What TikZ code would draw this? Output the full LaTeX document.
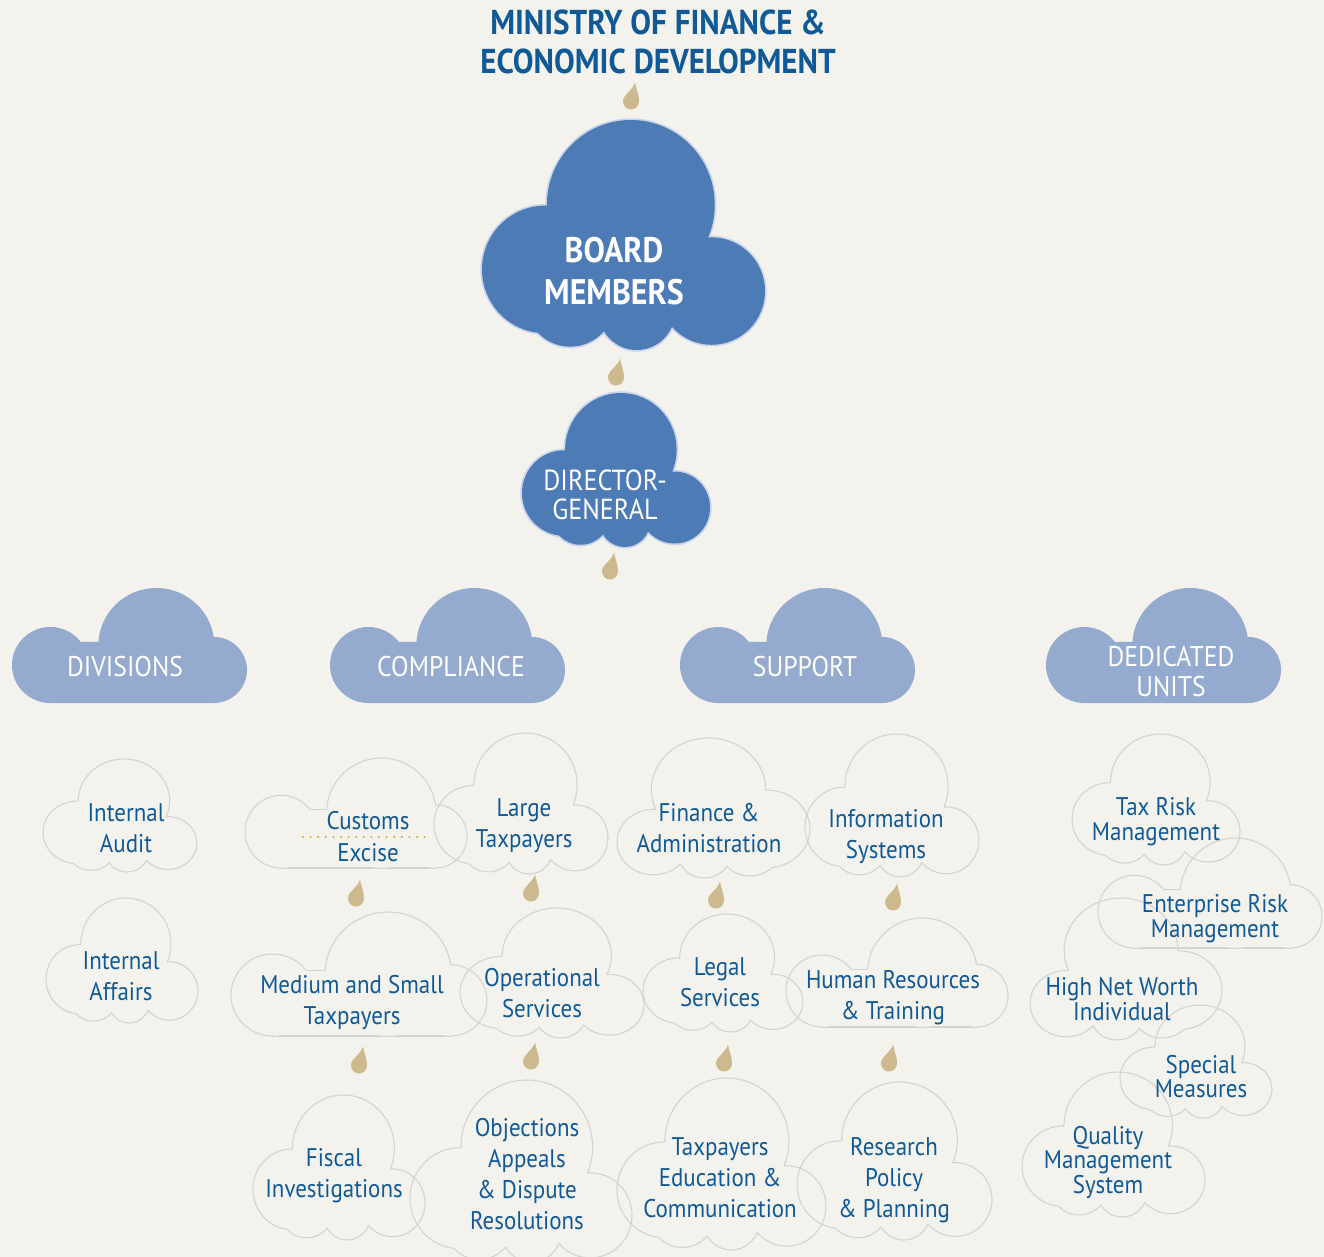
\documentclass[tikz,border=0pt]{standalone}
\usepackage{fontspec}
\setmainfont{PT Sans}[FakeStretch=0.9]
\definecolor{bg}{HTML}{F4F2EC}
\definecolor{ink}{HTML}{0F5A96}
\definecolor{boardblue}{HTML}{4D7BB5}
\definecolor{rim}{HTML}{C9D5EA}
\definecolor{headblue}{HTML}{94AACF}
\definecolor{cloudgray}{HTML}{D3D3D3}
\definecolor{dropc}{HTML}{CDB98E}
\definecolor{dotgold}{HTML}{D9A441}

% cloud template A: five lobes (unit box 850 x 685, centred, y up)
\def\cAa{(22pt,90.5pt) circle (252pt)}
\def\cAb{(-235pt,-102.5pt) circle (190pt)}
\def\cAc{(-160pt,-197.5pt) circle (135pt)}
\def\cAd{(40pt,-227.5pt) circle (115pt)}
\def\cAe{(265pt,-167pt) circle (160pt)}
% cloud template B: three lobes on a flat base (unit box 705 x 348)
\def\cBa{(-237.5pt,-59pt) circle (115pt)}
\def\cBb{(80.5pt,0pt) circle (174pt)}
\def\cBc{(252.5pt,-74pt) circle (100pt)}
\def\cBd{(-237.5pt,-174pt) -- (252.5pt,-174pt) -- (252.5pt,11pt) -- (-237.5pt,11pt) -- cycle}

% keep only what lies outside the given lobe (clockwise frame around a counter-clockwise lobe)
\newcommand\outside[1]{\clip (-5000pt,-5000pt) -- (-5000pt,5000pt) -- (5000pt,5000pt) -- (5000pt,-5000pt) -- cycle #1;}

\newcommand\ringA{%
  \begin{scope}\outside\cAb\outside\cAc\outside\cAd\outside\cAe\draw[cloudline]\cAa;\end{scope}
  \begin{scope}\outside\cAa\outside\cAc\outside\cAd\outside\cAe\draw[cloudline]\cAb;\end{scope}
  \begin{scope}\outside\cAa\outside\cAb\outside\cAd\outside\cAe\draw[cloudline]\cAc;\end{scope}
  \begin{scope}\outside\cAa\outside\cAb\outside\cAc\outside\cAe\draw[cloudline]\cAd;\end{scope}
  \begin{scope}\outside\cAa\outside\cAb\outside\cAc\outside\cAd\draw[cloudline]\cAe;\end{scope}}
\newcommand\ringB{%
  \begin{scope}\outside\cBb\outside\cBc\outside\cBd\draw[cloudline]\cBa;\end{scope}
  \begin{scope}\outside\cBa\outside\cBc\outside\cBd\draw[cloudline]\cBb;\end{scope}
  \begin{scope}\outside\cBa\outside\cBb\outside\cBd\draw[cloudline]\cBc;\end{scope}
  \begin{scope}\outside\cBa\outside\cBb\outside\cBc\draw[cloudline]\cBd;\end{scope}}

\tikzset{
  cloudline/.style={draw=cloudgray,line width=1.1pt,line join=round},
  pics/cloudA/.style 2 args={code={\begin{scope}[xscale=#1/850,yscale=#2/685]\ringA\end{scope}}},
  pics/cloudB/.style 2 args={code={\begin{scope}[xscale=#1/705,yscale=#2/348]\ringB\end{scope}}},
  pics/boardcloud/.style 2 args={code={\begin{scope}[xscale=#1/850,yscale=#2/685]
      \draw[rim,line width=3.4pt]\cAa\cAb\cAc\cAd\cAe;
      \fill[boardblue]\cAa\cAb\cAc\cAd\cAe;\end{scope}}},
  pics/headcloud/.style 2 args={code={\begin{scope}[xscale=#1/705,yscale=#2/348]
      \fill[headblue]\cBa\cBb\cBc\cBd;\end{scope}}},
  pics/drop/.style={code={\fill[dropc] (4,-13.5) .. controls (5.5,-6) and (8,-1) .. (8,5)
      .. controls (8,10) and (4.5,13.5) .. (0,13.5) .. controls (-4.5,13.5) and (-8,10) .. (-8,5)
      .. controls (-8,-1) and (2,-6) .. (4,-13.5) -- cycle;}},
  lbl/.style={text=ink,align=center,inner sep=0pt,font=\fontsize{25.5}{31}\selectfont},
  lblt/.style={lbl,font=\fontsize{25.5}{24.5}\selectfont},
  head/.style={text=white,align=center,inner sep=0pt,font=\fontsize{28.5}{30}\selectfont},
  dgtext/.style={text=white,align=center,inner sep=0pt,font=\fontsize{29}{29}\selectfont},
  boardtext/.style={text=white,align=center,inner sep=0pt,font=\fontsize{35.5}{42}\selectfont\bfseries},
  titletext/.style={text=ink,align=center,inner sep=0pt,font=\fontsize{34.5}{39}\selectfont\bfseries},
  dotrule/.style={dotgold,line width=2.2pt,line cap=round,dash pattern=on 0pt off 7.6pt},
}

\begin{document}
\begin{tikzpicture}[x=1pt,y=-1pt]
\fill[bg] (0,0) rectangle (1324,1257);
\useasboundingbox (0,0) rectangle (1324,1257);

% outlined unit clouds
\pic at (120,815.5) {cloudA={154}{113}};
\pic at (122,960.5) {cloudA={152}{125}};
\pic at (356,813) {cloudB={222}{110}};
\pic at (521,803.5) {cloudA={174}{141}};
\pic at (713.5,808) {cloudA={-193}{140}};
\pic at (892,805.5) {cloudA={174}{143}};
\pic at (359,974) {cloudB={256}{124}};
\pic at (552,973) {cloudA={184}{130}};
\pic at (723,973) {cloudA={160}{118}};
\pic at (897,972.5) {cloudB={222}{109}};
\pic at (339,1167.5) {cloudA={172}{145}};
\pic at (521,1171) {cloudA={222}{182}};
\pic at (721.5,1164) {cloudA={209}{172}};
\pic at (894.5,1161) {cloudA={195}{158}};
\pic at (1156,799.5) {cloudA={168}{131}};
\pic at (1210,893) {cloudB={224}{110}};
\pic at (1126,969) {cloudA={-192}{142}};
\pic at (1196,1061.5) {cloudA={152}{113}};
\pic at (1113.5,1144.5) {cloudA={183}{145}};

% filled clouds
\pic at (623.5,235) {boardcloud={283}{230}};
\pic at (616,470) {boardcloud={188}{154}};
\pic at (129.5,645.5) {headcloud={235}{115}};
\pic at (447.5,645.5) {headcloud={235}{115}};
\pic at (797.5,645.5) {headcloud={235}{115}};
\pic at (1163.5,645.5) {headcloud={235}{115}};

% drops
\foreach \p in {(631,96),(616,372),(610,566),(356,893),(531,888),(716,895),(893,897),
                (359,1060),(531,1056),(724,1058),(889,1058)}
  \pic at \p {drop};

% texts
\node[titletext] (ministry) at (658,41.5) {MINISTRY OF FINANCE \&\\ECONOMIC DEVELOPMENT};
\node[boardtext] (board) at (614,271) {BOARD\\MEMBERS};
\node[dgtext] (dg) at (605,494.5) {DIRECTOR-\\GENERAL};
\node[head] (divisions) at (125,667) {DIVISIONS};
\node[head] (compliance) at (451,667) {COMPLIANCE};
\node[head] (support) at (805,667) {SUPPORT};
\node[head] (dedicated) at (1171,672) {DEDICATED\\UNITS};

\node[lbl] (audit) at (126,828) {Internal\\Audit};
\node[lbl] (affairs) at (121,976) {Internal\\Affairs};
\node[lbl] (customs) at (368,820.5) {Customs};
\node[lbl] (excise) at (368,853) {Excise};
\coordinate (dotL) at (303,837);
\coordinate (dotR) at (431,837);
\draw[dotrule] (dotL) -- (dotR);
\node[lbl] (large) at (524,825.5) {Large\\Taxpayers};
\node[lbl] (finance) at (709,828) {Finance \&\\Administration};
\node[lbl] (infosys) at (886,836.5) {Information\\Systems};
\node[lbl] (medium) at (352,1002.5) {Medium and Small\\Taxpayers};
\node[lbl] (operational) at (542,993.5) {Operational\\Services};
\node[lbl] (legal) at (720,982) {Legal\\Services};
\node[lbl] (hr) at (893,997.5) {Human Resources\\\& Training};
\node[lbl] (fiscal) at (334,1176) {Fiscal\\Investigations};
\node[lbl] (objections) at (527,1174.5) {Objections\\Appeals\\\& Dispute\\Resolutions};
\node[lbl] (education) at (720,1178) {Taxpayers\\Education \&\\Communication};
\node[lbl] (research) at (894,1180) {Research\\Policy\\\& Planning};
\node[lblt] (taxrisk) at (1156,821.5) {Tax Risk\\Management};
\node[lblt] (enterprise) at (1215,918.5) {Enterprise Risk\\Management};
\node[lblt] (hnw) at (1122,999) {High Net Worth\\Individual};
\node[lblt] (special) at (1201,1076.5) {Special\\Measures};
\node[lblt] (quality) at (1108,1162.5) {Quality\\Management\\System};
\end{tikzpicture}
\end{document}
